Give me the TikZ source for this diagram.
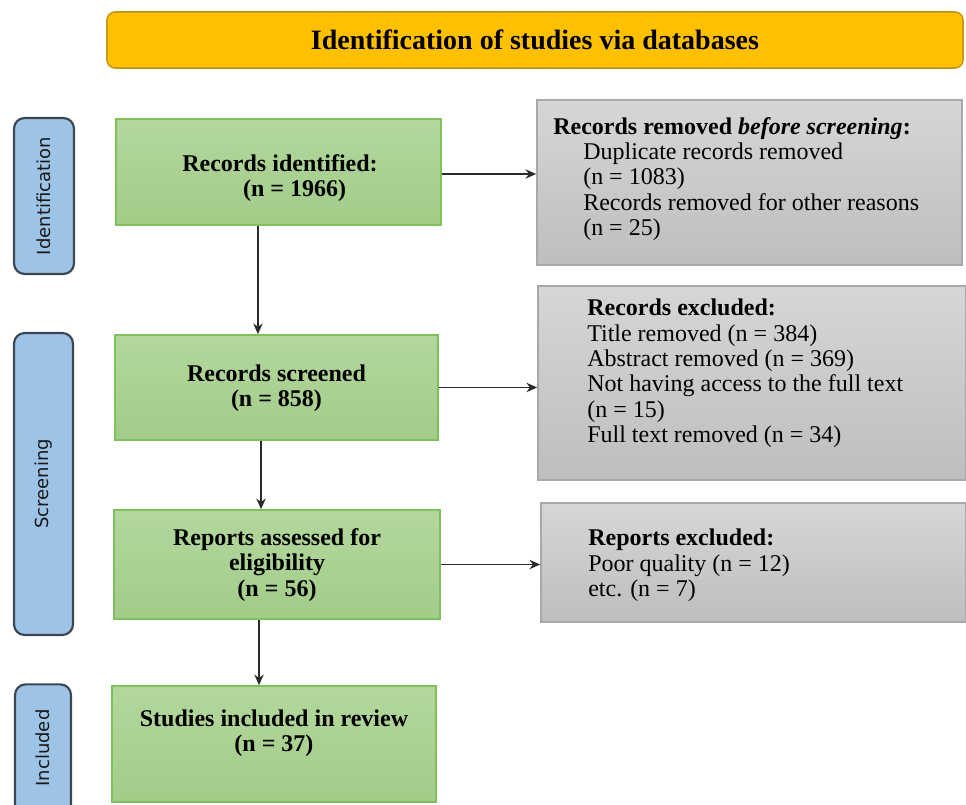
\documentclass[tikz,border=0pt]{standalone}
\usepackage{fontspec}
\setmainfont{Liberation Serif}
\newfontfamily\sidefont{DejaVu Sans}
\usetikzlibrary{arrows.meta,calc}
\definecolor{titlefill}{HTML}{FFC000}
\definecolor{titledraw}{HTML}{C99A12}
\definecolor{greentop}{HTML}{B3D79D}
\definecolor{greenbot}{HTML}{A2CC88}
\definecolor{greendraw}{HTML}{80C05C}
\definecolor{graytop}{HTML}{D6D6D6}
\definecolor{graybot}{HTML}{BEBEBE}
\definecolor{graydraw}{HTML}{A8A8A8}
\definecolor{sidefill}{HTML}{9DC3E6}
\definecolor{sidedraw}{HTML}{3B4650}
\definecolor{arrowcol}{HTML}{2A2A2A}
\begin{document}
\begin{tikzpicture}[x=0.75pt,y=-0.75pt,
  titlebox/.style={draw=titledraw,line width=1.2pt,fill=titlefill,rounded corners=6pt,minimum width=642pt,minimum height=42pt,inner sep=0pt},
  greenbox/.style={draw=greendraw,line width=1.2pt,top color=greentop,bottom color=greenbot,inner sep=0pt},
  graybox/.style={draw=graydraw,line width=1.2pt,top color=graytop,bottom color=graybot,inner sep=0pt},
  sidebox/.style={draw=sidedraw,line width=1.6pt,fill=sidefill,rounded corners=8pt,inner sep=0pt},
  greentext/.style={font=\fontsize{18}{19}\selectfont\bfseries,align=center,inner sep=0pt},
  graytext/.style={font=\fontsize{18}{19}\selectfont,align=left,inner sep=0pt,anchor=north west},
  sidetext/.style={font=\sidefont\fontsize{13.5}{15}\selectfont,text=black!90,rotate=90,inner sep=0pt},
  flow/.style={draw=arrowcol,line width=1.4pt,-{Stealth[length=8pt,width=7pt]}}
]
\useasboundingbox (0,0) rectangle (966,805);

% title
\node[titlebox] (title) at (535,40) {\fontsize{21}{24}\selectfont\bfseries Identification of studies via databases};

% side labels
\node[sidebox,minimum width=45pt,minimum height=117pt] (s1) at (44,196) {};
\node[sidetext] (s1t) at (s1.center) {Identification};
\node[sidebox,minimum width=44.25pt,minimum height=226.5pt] (s2) at (43.5,484) {};
\node[sidetext] (s2t) at (s2.center) {Screening};
\node[sidebox,minimum width=42pt,minimum height=118pt] (s3) at (43,763) {};
\node[sidetext] (s3t) at (43,748) {Included};

% green boxes
\node[greenbox,minimum width=243.75pt,minimum height=79.5pt] (b1) at (278.5,172) {};
\node[greentext] (t1) at (280,178) {Records identified:\\\hspace*{22pt}(n = 1966)};
\node[greenbox,minimum width=242.25pt,minimum height=78.75pt] (b2) at (276.5,387.5) {};
\node[greentext] (t2) at (276.5,388) {Records screened\\(n = 858)};
\node[greenbox,minimum width=244.5pt,minimum height=81.75pt] (b3) at (277,564.5) {};
\node[greentext] (t3) at (277,565) {Reports assessed for\\eligibility\\(n = 56)};
\node[greenbox,minimum width=243pt,minimum height=87pt] (b4) at (274,744) {};
\node[greentext] (t4) at (274,733) {Studies included in review\\(n = 37)};

% gray boxes
\node[graybox,minimum width=318.75pt,minimum height=123.75pt] (g1) at (749.5,182.5) {};
\node[graytext] (g1t) at (553,117) {\textbf{Records removed \textit{before screening}:}\\
\hspace*{22.5pt}Duplicate records removed\\
\hspace*{22.5pt}(n = 1083)\\
\hspace*{22.5pt}Records removed for other reasons\\
\hspace*{22.5pt}(n = 25)};
\node[graybox,minimum width=321pt,minimum height=145.5pt] (g2) at (752,383) {};
\node[graytext] (g2t) at (587,299) {\textbf{Records excluded:}\\
Title removed (n = 384)\\
Abstract removed (n = 369)\\
Not having access to the full text\\
(n = 15)\\
Full text removed (n = 34)};
\node[graybox,minimum width=318.75pt,minimum height=89.25pt] (g3) at (753.5,562.5) {};
\node[graytext] (g3t) at (588,529) {\textbf{Reports excluded:}\\
Poor quality (n = 12)\\
etc. (n = 7)};

% connectors
\draw[flow] ([xshift=-15.4pt]b1.south) -- ([xshift=-15.4pt]b1.south |- b2.north);
\draw[flow] ([xshift=-11.6pt]b2.south) -- ([xshift=-11.6pt]b2.south |- b3.north);
\draw[flow] ([xshift=-13.5pt]b3.south) -- ([xshift=-13.5pt]b3.south |- b4.north);
\draw[flow] ([yshift=-1.5pt]b1.east) -- ([yshift=-1.5pt]b1.east -| g1.west);
\draw[flow] (b2.east) -- (b2.east -| g2.west);
\draw[flow] (b3.east) -- (b3.east -| g3.west);
\end{tikzpicture}
\end{document}
